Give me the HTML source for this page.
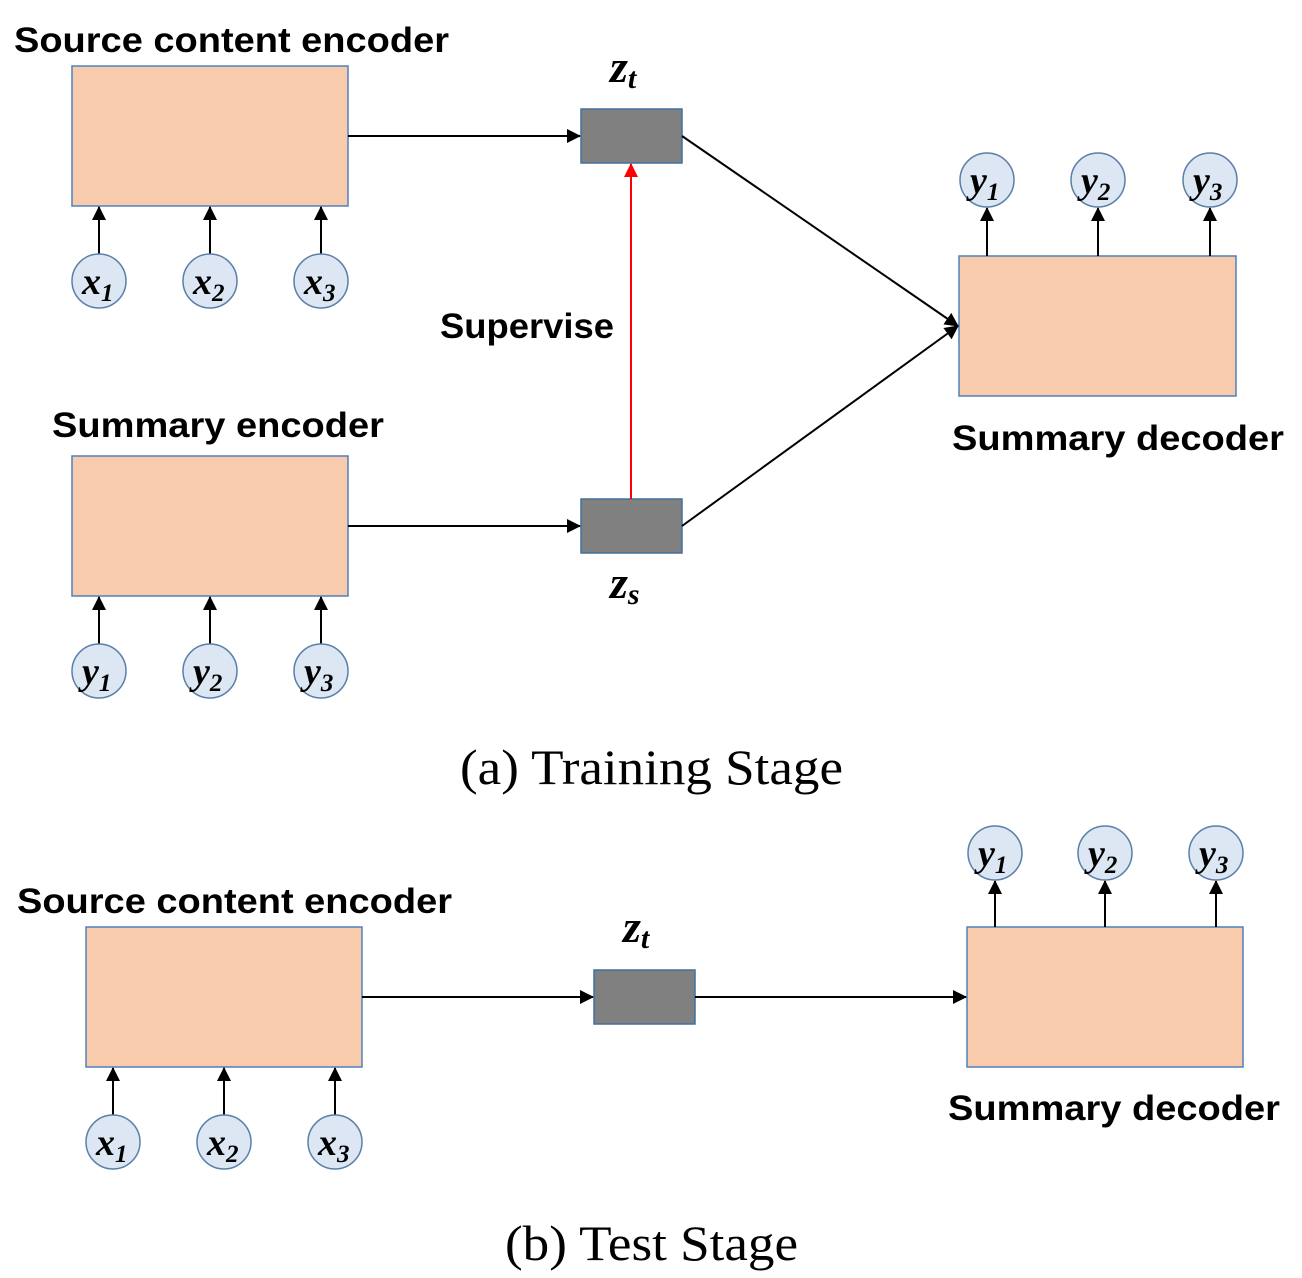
<!DOCTYPE html>
<html><head><style>body{margin:0;background:#fff}svg{display:block}</style></head><body>
<svg width="1302" height="1278" viewBox="0 0 1302 1278" xmlns="http://www.w3.org/2000/svg">
<defs>
<marker id="r" markerWidth="14" markerHeight="14" refX="13" refY="7" orient="auto" markerUnits="userSpaceOnUse"><path d="M0,0 L14,7 L0,14 z" fill="#f00"/></marker>
<marker id="b" markerWidth="14" markerHeight="14" refX="13" refY="7" orient="auto" markerUnits="userSpaceOnUse"><path d="M0,0 L14,7 L0,14 z" fill="#000"/></marker>
</defs>
<style>
.bx{fill:#f7cbac;stroke:#4f81bd;stroke-width:1.5}
.g{fill:#808080;stroke:#41719c;stroke-width:1.5}
.c{fill:#dce7f3;stroke:#5a7fa8;stroke-width:1.5}
.l{stroke:#000;stroke-width:2;fill:none}
.t{font-family:"Liberation Sans",sans-serif;font-weight:bold;font-size:35px}
.m{font-family:"Liberation Serif",serif;font-weight:bold;font-style:italic;font-size:38px}
.s{font-size:25px}
.z{font-size:46px}
.zs{font-size:30px}
.cap{font-family:"Liberation Serif",serif;font-size:50px}
</style>
<!-- Training -->
<text class="t" x="14" y="52" textLength="435" lengthAdjust="spacingAndGlyphs">Source content encoder</text>
<rect class="bx" x="72" y="66" width="276" height="140"/>
<text class="t" x="52" y="437" textLength="332" lengthAdjust="spacingAndGlyphs">Summary encoder</text>
<rect class="bx" x="72" y="456" width="276" height="140"/>
<text class="t" x="952" y="450" textLength="332" lengthAdjust="spacingAndGlyphs">Summary decoder</text>
<rect class="bx" x="959" y="256" width="277" height="140"/>
<text class="t" x="440" y="338" textLength="174" lengthAdjust="spacingAndGlyphs">Supervise</text>
<rect class="g" x="581" y="109" width="101" height="54"/>
<rect class="g" x="581" y="499" width="101" height="54"/>
<text class="m z" x="610" y="82">z<tspan class="zs" dy="6">t</tspan></text>
<text class="m z" x="610" y="598">z<tspan class="zs" dy="6">s</tspan></text>
<line class="l" x1="348" y1="136" x2="580" y2="136" marker-end="url(#b)"/>
<line class="l" x1="348" y1="526" x2="580" y2="526" marker-end="url(#b)"/>
<line x1="631" y1="499" x2="631" y2="164" stroke="#f00" stroke-width="2" marker-end="url(#r)"/>
<line class="l" x1="682" y1="136" x2="958" y2="326" marker-end="url(#b)"/>
<line class="l" x1="682" y1="526" x2="958" y2="326" marker-end="url(#b)"/>
<g>
<line class="l" x1="99" y1="254" x2="99" y2="207" marker-end="url(#b)"/>
<line class="l" x1="210" y1="254" x2="210" y2="207" marker-end="url(#b)"/>
<line class="l" x1="321" y1="254" x2="321" y2="207" marker-end="url(#b)"/>
<circle class="c" cx="99" cy="281" r="27"/><circle class="c" cx="210" cy="281" r="27"/><circle class="c" cx="321" cy="281" r="27"/>
<text class="m" x="82" y="294">x<tspan class="s" dy="7">1</tspan></text>
<text class="m" x="193" y="294">x<tspan class="s" dy="7">2</tspan></text>
<text class="m" x="304" y="294">x<tspan class="s" dy="7">3</tspan></text>
</g>
<g>
<line class="l" x1="99" y1="644" x2="99" y2="597" marker-end="url(#b)"/>
<line class="l" x1="210" y1="644" x2="210" y2="597" marker-end="url(#b)"/>
<line class="l" x1="321" y1="644" x2="321" y2="597" marker-end="url(#b)"/>
<circle class="c" cx="99" cy="671" r="27"/><circle class="c" cx="210" cy="671" r="27"/><circle class="c" cx="321" cy="671" r="27"/>
<text class="m" x="82" y="684">y<tspan class="s" dy="7">1</tspan></text>
<text class="m" x="193" y="684">y<tspan class="s" dy="7">2</tspan></text>
<text class="m" x="304" y="684">y<tspan class="s" dy="7">3</tspan></text>
</g>
<g>
<line class="l" x1="987" y1="256" x2="987" y2="208" marker-end="url(#b)"/>
<line class="l" x1="1098" y1="256" x2="1098" y2="208" marker-end="url(#b)"/>
<line class="l" x1="1210" y1="256" x2="1210" y2="208" marker-end="url(#b)"/>
<circle class="c" cx="987" cy="180" r="27"/><circle class="c" cx="1098" cy="180" r="27"/><circle class="c" cx="1210" cy="180" r="27"/>
<text class="m" x="970" y="193">y<tspan class="s" dy="7">1</tspan></text>
<text class="m" x="1081" y="193">y<tspan class="s" dy="7">2</tspan></text>
<text class="m" x="1193" y="193">y<tspan class="s" dy="7">3</tspan></text>
</g>
<text class="cap" x="460" y="784" textLength="383" lengthAdjust="spacingAndGlyphs">(a) Training Stage</text>
<!-- Test -->
<text class="t" x="17" y="913" textLength="435" lengthAdjust="spacingAndGlyphs">Source content encoder</text>
<rect class="bx" x="86" y="927" width="276" height="140"/>
<text class="t" x="948" y="1120" textLength="332" lengthAdjust="spacingAndGlyphs">Summary decoder</text>
<rect class="bx" x="967" y="927" width="276" height="140"/>
<rect class="g" x="594" y="970" width="101" height="54"/>
<text class="m z" x="623" y="942">z<tspan class="zs" dy="6">t</tspan></text>
<line class="l" x1="362" y1="997" x2="593" y2="997" marker-end="url(#b)"/>
<line class="l" x1="695" y1="997" x2="966" y2="997" marker-end="url(#b)"/>
<g>
<line class="l" x1="113" y1="1115" x2="113" y2="1068" marker-end="url(#b)"/>
<line class="l" x1="224" y1="1115" x2="224" y2="1068" marker-end="url(#b)"/>
<line class="l" x1="335" y1="1115" x2="335" y2="1068" marker-end="url(#b)"/>
<circle class="c" cx="113" cy="1142" r="27"/><circle class="c" cx="224" cy="1142" r="27"/><circle class="c" cx="335" cy="1142" r="27"/>
<text class="m" x="96" y="1155">x<tspan class="s" dy="7">1</tspan></text>
<text class="m" x="207" y="1155">x<tspan class="s" dy="7">2</tspan></text>
<text class="m" x="318" y="1155">x<tspan class="s" dy="7">3</tspan></text>
</g>
<g>
<line class="l" x1="995" y1="927" x2="995" y2="881" marker-end="url(#b)"/>
<line class="l" x1="1105" y1="927" x2="1105" y2="881" marker-end="url(#b)"/>
<line class="l" x1="1216" y1="927" x2="1216" y2="881" marker-end="url(#b)"/>
<circle class="c" cx="995" cy="853" r="27"/><circle class="c" cx="1105" cy="853" r="27"/><circle class="c" cx="1216" cy="853" r="27"/>
<text class="m" x="978" y="866">y<tspan class="s" dy="7">1</tspan></text>
<text class="m" x="1088" y="866">y<tspan class="s" dy="7">2</tspan></text>
<text class="m" x="1199" y="866">y<tspan class="s" dy="7">3</tspan></text>
</g>
<text class="cap" x="505" y="1260" textLength="293" lengthAdjust="spacingAndGlyphs">(b) Test Stage</text>
</svg>
</body></html>
